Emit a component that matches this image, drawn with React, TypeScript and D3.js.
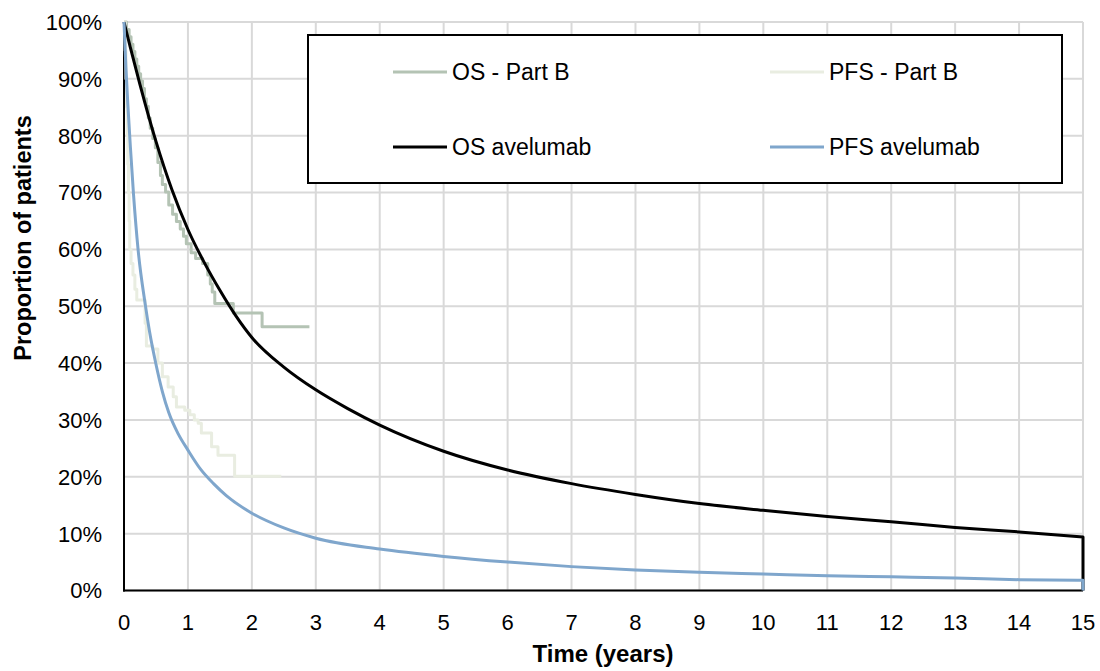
import React from "react";
import * as d3 from "d3";

const xTicks = [0, 1, 2, 3, 4, 5, 6, 7, 8, 9, 10, 11, 12, 13, 14, 15];
const yTicks = [0, 10, 20, 30, 40, 50, 60, 70, 80, 90, 100];

const osPartB: [number, number][] = [
  [0, 100], [0.04, 98.7], [0.08, 97.4], [0.11, 96.1], [0.14, 94.8], [0.17, 93.5], [0.2, 92.2],
  [0.23, 90.9], [0.26, 89.6], [0.29, 88.3], [0.32, 86.5], [0.35, 85.2], [0.38, 83.1], [0.41, 81.3],
  [0.45, 79.5], [0.49, 77.9], [0.53, 75.3], [0.57, 73], [0.6, 71.4], [0.65, 70.1], [0.7, 67.8],
  [0.76, 66.2], [0.82, 64.9], [0.88, 63.6], [0.93, 62.3], [0.975, 61], [1.05, 59.4], [1.12, 58.4],
  [1.23, 57.5], [1.31, 55.5], [1.35, 53.9], [1.38, 52.5], [1.42, 50.5], [1.71, 48.8], [2.16, 46.4],
  [2.9, 46.4],
];

const pfsPartB: [number, number][] = [
  [0, 100], [0.02, 95], [0.03, 90], [0.04, 85], [0.05, 80], [0.06, 75], [0.07, 70], [0.08, 65],
  [0.09, 60], [0.11, 57.5], [0.14, 55.5], [0.17, 53], [0.2, 51.1], [0.33, 47], [0.35, 43],
  [0.45, 42.5], [0.53, 40], [0.6, 37.6], [0.69, 35.8], [0.77, 34.1], [0.82, 32.3], [0.95, 31.7],
  [1.03, 30.9], [1.1, 30], [1.16, 29.4], [1.21, 27.7], [1.37, 25.3], [1.47, 23.8], [1.73, 20.1],
  [2.46, 20.1],
];

const osAvelumab: [number, number][] = [
  [0, 100], [0.1, 95.5], [0.25, 89], [0.5, 79], [0.75, 70.5], [1, 63.5], [1.25, 57.8],
  [1.5, 52.8], [1.75, 48.3], [2, 44.5], [2.5, 39.3], [3, 35.3], [3.5, 32], [4, 29.1], [5, 24.5],
  [6, 21.2], [7, 18.8], [8, 16.9], [9, 15.3], [10, 14.1], [11, 13], [12, 12.1], [13, 11.1],
  [14, 10.3], [15, 9.4],
];

const pfsAvelumab: [number, number][] = [
  [0, 100], [0.03, 92], [0.06, 85.5], [0.1, 78], [0.15, 69.5], [0.22, 60], [0.33, 50.5],
  [0.4, 45.5], [0.5, 39.8], [0.6, 35], [0.7, 31.3], [0.85, 27.5], [1, 24.7], [1.2, 21.3],
  [1.4, 18.8], [1.6, 16.7], [2, 13.6], [2.5, 11], [3, 9.2], [4, 7.3], [5, 6], [6, 5], [7, 4.2],
  [8, 3.6], [9, 3.2], [10, 2.9], [11, 2.6], [12, 2.4], [13, 2.2], [14, 1.9], [15, 1.8],
];

const series = [
  { name: "OS - Part B", data: osPartB, color: "#b4c3b4", step: true },
  { name: "PFS - Part B", data: pfsPartB, color: "#e9ede1", step: true },
  { name: "OS avelumab", data: osAvelumab, color: "#000000", step: false },
  { name: "PFS avelumab", data: pfsAvelumab, color: "#7fa6cc", step: false },
];

const FONT = "'Liberation Sans', Arial, sans-serif";

export default function App() {
  const W = 1100, H = 671;
  const x = d3.scaleLinear().domain([0, 15]).range([124, 1083]);
  const y = d3.scaleLinear().domain([0, 100]).range([590.5, 22]);

  const stepLine = d3.line<[number, number]>().x(d => x(d[0])).y(d => y(d[1])).curve(d3.curveStepAfter);
  const smoothLine = d3.line<[number, number]>().x(d => x(d[0])).y(d => y(d[1])).curve(d3.curveMonotoneX);

  const pathFor = (s: typeof series[number]) => {
    if (s.step) return stepLine(s.data) || "";
    const last = s.data[s.data.length - 1];
    return (smoothLine(s.data) || "") + `L${x(last[0])},${y(0)}`;
  };

  const legendItems = [
    { s: series[0], lx: 393, ly: 72 },
    { s: series[1], lx: 770, ly: 72 },
    { s: series[2], lx: 393, ly: 147 },
    { s: series[3], lx: 770, ly: 147 },
  ];

  return (
    <svg width={W} height={H} style={{ position: "absolute", left: 0, top: 0, background: "#fff" }} fontFamily={FONT}>
      <rect x={0} y={0} width={W} height={H} fill="#fff" />
      {yTicks.map(t => (
        <line key={"gy" + t} x1={x(0)} x2={x(15)} y1={y(t)} y2={y(t)} stroke="#d9d9d9" strokeWidth={2} />
      ))}
      {xTicks.map(t => (
        <line key={"gx" + t} x1={x(t)} x2={x(t)} y1={y(0)} y2={y(100)} stroke="#d9d9d9" strokeWidth={2} />
      ))}
      <line x1={x(0)} x2={x(0)} y1={y(100)} y2={y(0) + 1} stroke="#000" strokeWidth={2} />
      <line x1={x(0) - 1} x2={x(15)} y1={y(0)} y2={y(0)} stroke="#000" strokeWidth={2} />
      {yTicks.map(t => (
        <text key={"ly" + t} x={102} y={y(t)} dy="0.36em" textAnchor="end" fontSize={22} fill="#000">
          {d3.format("d")(t) + "%"}
        </text>
      ))}
      {xTicks.map(t => (
        <text key={"lx" + t} x={x(t)} y={630} textAnchor="middle" fontSize={22} fill="#000">
          {t}
        </text>
      ))}
      {series.map(s => (
        <path key={s.name} d={pathFor(s)} fill="none" stroke={s.color} strokeWidth={3} strokeLinejoin="round" />
      ))}
      <text x={603} y={662} textAnchor="middle" fontSize={24} fontWeight="bold" fill="#000">Time (years)</text>
      <text transform="translate(31,238) rotate(-90)" textAnchor="middle" fontSize={23.5} fontWeight="bold" fill="#000">
        Proportion of patients
      </text>
      <rect x={308} y={35} width={754} height={148} fill="#fff" stroke="#000" strokeWidth={2} />
      {legendItems.map(({ s, lx, ly }) => (
        <g key={"lg" + s.name}>
          <line x1={lx} x2={lx + 54} y1={ly} y2={ly} stroke={s.color} strokeWidth={3} />
          <text x={lx + 59} y={ly} dy="0.36em" fontSize={23} fill="#000">{s.name}</text>
        </g>
      ))}
    </svg>
  );
}
